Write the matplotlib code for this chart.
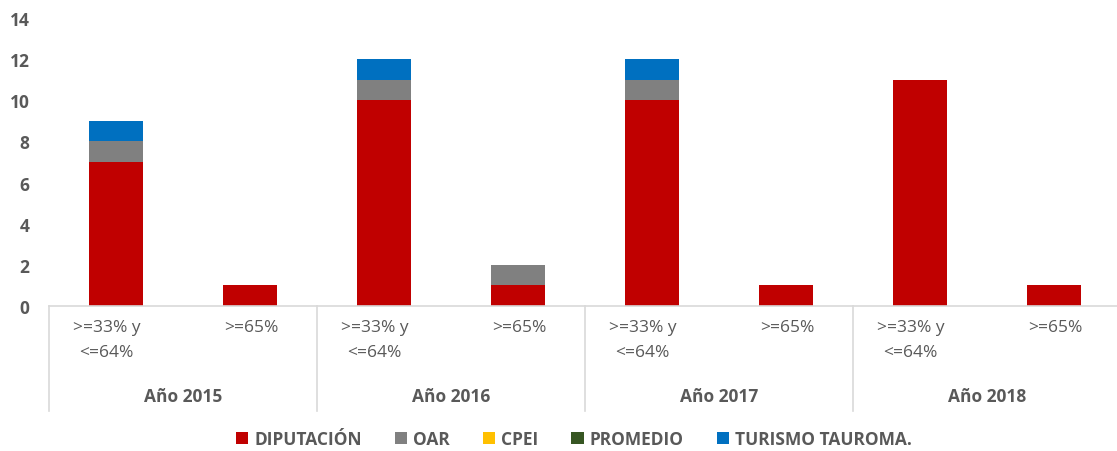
import matplotlib
matplotlib.use('Agg')
import matplotlib.pyplot as plt
import matplotlib.patches as mpatches
from matplotlib.transforms import blended_transform_factory
import numpy as np

plt.rcParams['font.family'] = ['Open Sans', 'DejaVu Sans']

years = ['Año 2015', 'Año 2016', 'Año 2017', 'Año 2018']
ranges = ['>=33% y\n<=64%', '>=65%']
series = ['DIPUTACIÓN', 'OAR', 'CPEI', 'PROMEDIO', 'TURISMO TAUROMA.']
colors = ['#C00000', '#808080', '#FFC000', '#375623', '#0070C0']

diputacion = [7, 1, 10, 1, 10, 1, 11, 1]
oar = [1, 0, 1, 1, 1, 0, 0, 0]
cpei = [0, 0, 0, 0, 0, 0, 0, 0]
promedio = [0, 0, 0, 0, 0, 0, 0, 0]
turismo = [1, 0, 1, 0, 1, 0, 0, 0]

W, H = 1117, 452
fig = plt.figure(figsize=(W / 100, H / 100), dpi=100)
ax = fig.add_axes([49 / W, 145 / H, 1072 / W, 288 / H])

TXT = '#595959'
x = np.arange(len(diputacion))
bottom = np.zeros(len(x))
for vals, col in zip([diputacion, oar, cpei, promedio, turismo], colors):
    ax.bar(x, vals, bottom=bottom, width=0.4, color=col, edgecolor='none')
    bottom += np.array(vals)

ax.set_xlim(-0.5, 7.5)
ax.set_ylim(0, 14)
ax.set_yticks(range(0, 15, 2))
ax.set_xticks([])
for s in ['top', 'right', 'left']:
    ax.spines[s].set_visible(False)
ax.spines['bottom'].set_color('#D9D9D9')
ax.spines['bottom'].set_linewidth(1.2)
ax.tick_params(axis='y', length=0, pad=14, labelsize=12.5, labelcolor=TXT)
for lab in ax.get_yticklabels():
    lab.set_fontweight('bold')

tr = blended_transform_factory(ax.transData, fig.transFigure)
def fy(py):
    return (H - py) / H

for i in range(len(x)):
    shift = -0.07 if i % 2 == 0 else 0.01
    ax.text(x[i] + shift, fy(320), ranges[i % 2], transform=tr, ha='center', va='top',
            fontsize=12.5, color=TXT, linespacing=1.75)
for g, yr in enumerate(years):
    ax.text(2 * g + 0.5, fy(397), yr, transform=tr, ha='center', va='center',
            fontsize=12.5, color=TXT, fontweight='bold')
for b in [-0.5, 1.5, 3.5, 5.5, 7.5]:
    ax.plot([b, b], [fy(307), fy(412)], transform=tr, color='#D9D9D9',
            lw=1.2, clip_on=False)

handles = [mpatches.Patch(facecolor=c, edgecolor='none', label=s) for s, c in zip(series, colors)]
leg = fig.legend(handles=handles, loc='center', bbox_to_anchor=(574 / W, fy(440)),
                 ncol=5, frameon=False, handlelength=0.7, handleheight=0.7,
                 handletextpad=0.35, columnspacing=1.9,
                 prop={'size': 12.5, 'weight': 'bold'})
for t in leg.get_texts():
    t.set_color(TXT)

fig.savefig('out.png', dpi=100, facecolor='white')
